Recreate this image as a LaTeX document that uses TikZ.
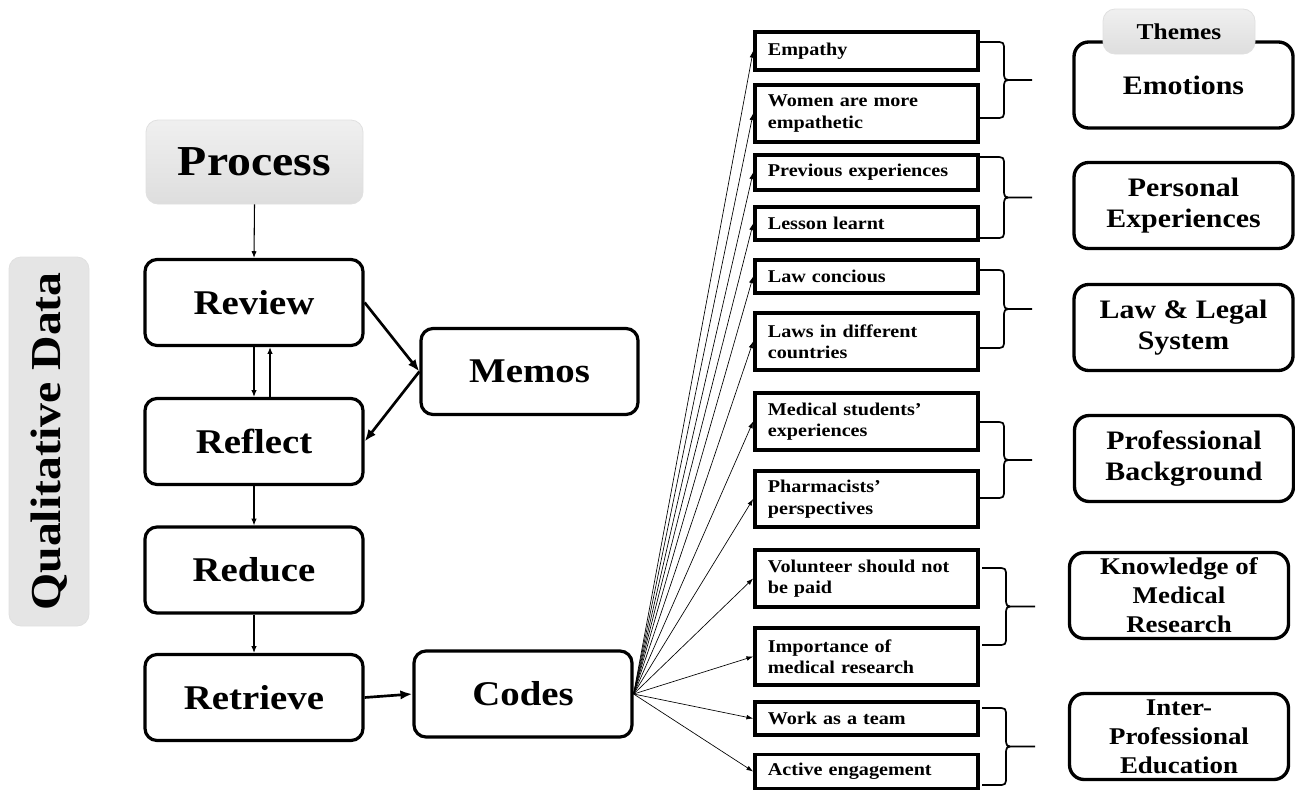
\documentclass[tikz,border=0pt]{standalone}
\usepackage{fontspec}
\setmainfont{Liberation Serif}[FakeStretch=1.12]
\usetikzlibrary{arrows.meta}
\newcommand{\codebrace}[5]{%
\pgfmathsetmacro{\bmid}{(#1+#2)/2}%
\draw[bracestyle] (#3,#1) -- ({#4-9},#1) .. controls (#4,#1) .. (#4,{#1+9}) -- (#4,{\bmid-9}) .. controls (#4,\bmid) .. ({#4+9},\bmid) -- (#5,\bmid)
 ({#4+9},\bmid) .. controls (#4,\bmid) .. (#4,{\bmid+9}) -- (#4,{#2-9}) .. controls (#4,#2) .. ({#4-9},#2) -- (#3,#2);}
\begin{document}
\begin{tikzpicture}[x=0.75pt,y=-0.75pt,
 big/.style={draw, line width=2.4pt, rounded corners=9pt, minimum width=163.5pt, minimum height=64.5pt, inner sep=0pt, align=center, font=\fontsize{26}{30}\selectfont\bfseries},
 graybox/.style={draw=black!12, line width=0.6pt, rounded corners=9pt, inner sep=0pt, align=center},
 code/.style={draw, line width=2.8pt, minimum width=167.25pt, text width=148pt, inner xsep=9.6pt, inner ysep=0pt, align=left, font=\fontsize{13.5}{16}\selectfont\bfseries},
 theme/.style={draw, line width=2.5pt, rounded corners=11pt, minimum width=164.25pt, minimum height=64.5pt, inner sep=0pt, align=center, font=\fontsize{20}{23}\selectfont\bfseries},
 smalltheme/.style={theme, font=\fontsize{18}{21.75}\selectfont\bfseries},
 thinarrow/.style={-{Latex[length=5pt,width=4pt]}, line width=0.8pt},
 fan/.style={-{Latex[length=5pt,width=3.5pt]}, line width=0.5pt},
 thickarrow/.style={-{Latex[length=9pt,width=7pt]}, line width=2pt},
 bracestyle/.style={line width=1.3pt, line join=round}]
\useasboundingbox (0,0) rectangle (1295,789);

% left column
\node[graybox, fill=black!10, rotate=90, minimum width=276.75pt, minimum height=60pt, font=\fontsize{32}{36}\selectfont\bfseries] (qual) at (49,441.5) {Qualitative Data};
\node[graybox, top color=black!6, bottom color=black!13, minimum width=162.75pt, minimum height=63pt, font=\fontsize{32}{36}\selectfont\bfseries] (process) at (254.5,162) {Process};
\node[big] (review) at (254,302.5) {Review};
\node[big] (reflect) at (254,441.5) {Reflect};
\node[big] (reduce) at (254,570) {Reduce};
\node[big] (retrieve) at (254,697.5) {Retrieve};
\node[big, minimum width=162.75pt] (memos) at (529.5,371.5) {Memos};
\node[big] (codes) at (523,694) {Codes};

\draw[thinarrow] (process.south) -- (review.north);
\draw[thinarrow] (review.south) -- (reflect.north);
\draw[thinarrow] ([xshift=12pt]reflect.north) -- ([xshift=12pt]review.south);
\draw[thinarrow] (reflect.south) -- (reduce.north);
\draw[thinarrow] (reduce.south) -- (retrieve.north);
\draw[thickarrow] (review.east) -- (memos.west);
\draw[thickarrow] (memos.west) -- (reflect.east);
\draw[thickarrow] (retrieve.east) -- (codes.west);

% codes
\node[code, minimum height=28.5pt] (c1) at (866.5,51) {Empathy};
\node[code, minimum height=42.75pt] (c2) at (866.5,113.5) {Women are more\\empathetic};
\node[code, minimum height=26.25pt] (c3) at (866.5,172.5) {Previous experiences};
\node[code, minimum height=24.75pt] (c4) at (866.5,223.5) {Lesson learnt};
\node[code, minimum height=24.75pt] (c5) at (866.5,276.5) {Law concious};
\node[code, minimum height=42.75pt] (c6) at (866.5,341.5) {Laws in different\\countries};
\node[code, minimum height=42.75pt] (c7) at (866.5,421.5) {Medical students’\\experiences};
\node[code, minimum height=42pt] (c8) at (866.5,499) {Pharmacists’\\perspectives};
\node[code, minimum height=42.75pt] (c9) at (866.5,578.5) {Volunteer should not\\be paid};
\node[code, minimum height=42.75pt] (c10) at (866.5,656.5) {Importance of\\medical research};
\node[code, minimum height=24.75pt] (c11) at (866.5,718.5) {Work as a team};
\node[code, minimum height=25.5pt] (c12) at (866.5,771.5) {Active engagement};

\foreach \n in {c1,c2,c3,c4,c5,c6,c7,c8,c9,c10,c11,c12}
  \draw[fan] (codes.east) -- (\n.west);

% braces
\codebrace{42}{118}{980}{1004}{1032}
\codebrace{157}{238}{980}{1004}{1032}
\codebrace{270}{348}{980}{1004}{1032}
\codebrace{422}{498}{980}{1004}{1032}
\codebrace{568}{645}{982}{1006}{1035}
\codebrace{708}{785}{982}{1006}{1035}

% themes
\node[theme] (t1) at (1183.5,85) {Emotions};
\node[graybox, top color=black!6, bottom color=black!13, minimum width=114pt, minimum height=33.75pt, font=\fontsize{17}{20}\selectfont\bfseries] (tab) at (1179,31.5) {Themes};
\node[theme] (t2) at (1183.5,205.5) {Personal\\Experiences};
\node[theme] (t3) at (1183.5,327.5) {Law \& Legal\\System};
\node[theme] (t4) at (1184,458.5) {Professional\\Background};
\node[smalltheme] (t5) at (1179,595.5) {Knowledge of\\Medical\\Research};
\node[smalltheme] (t6) at (1179,736.5) {Inter-\\Professional\\Education};
\end{tikzpicture}
\end{document}
